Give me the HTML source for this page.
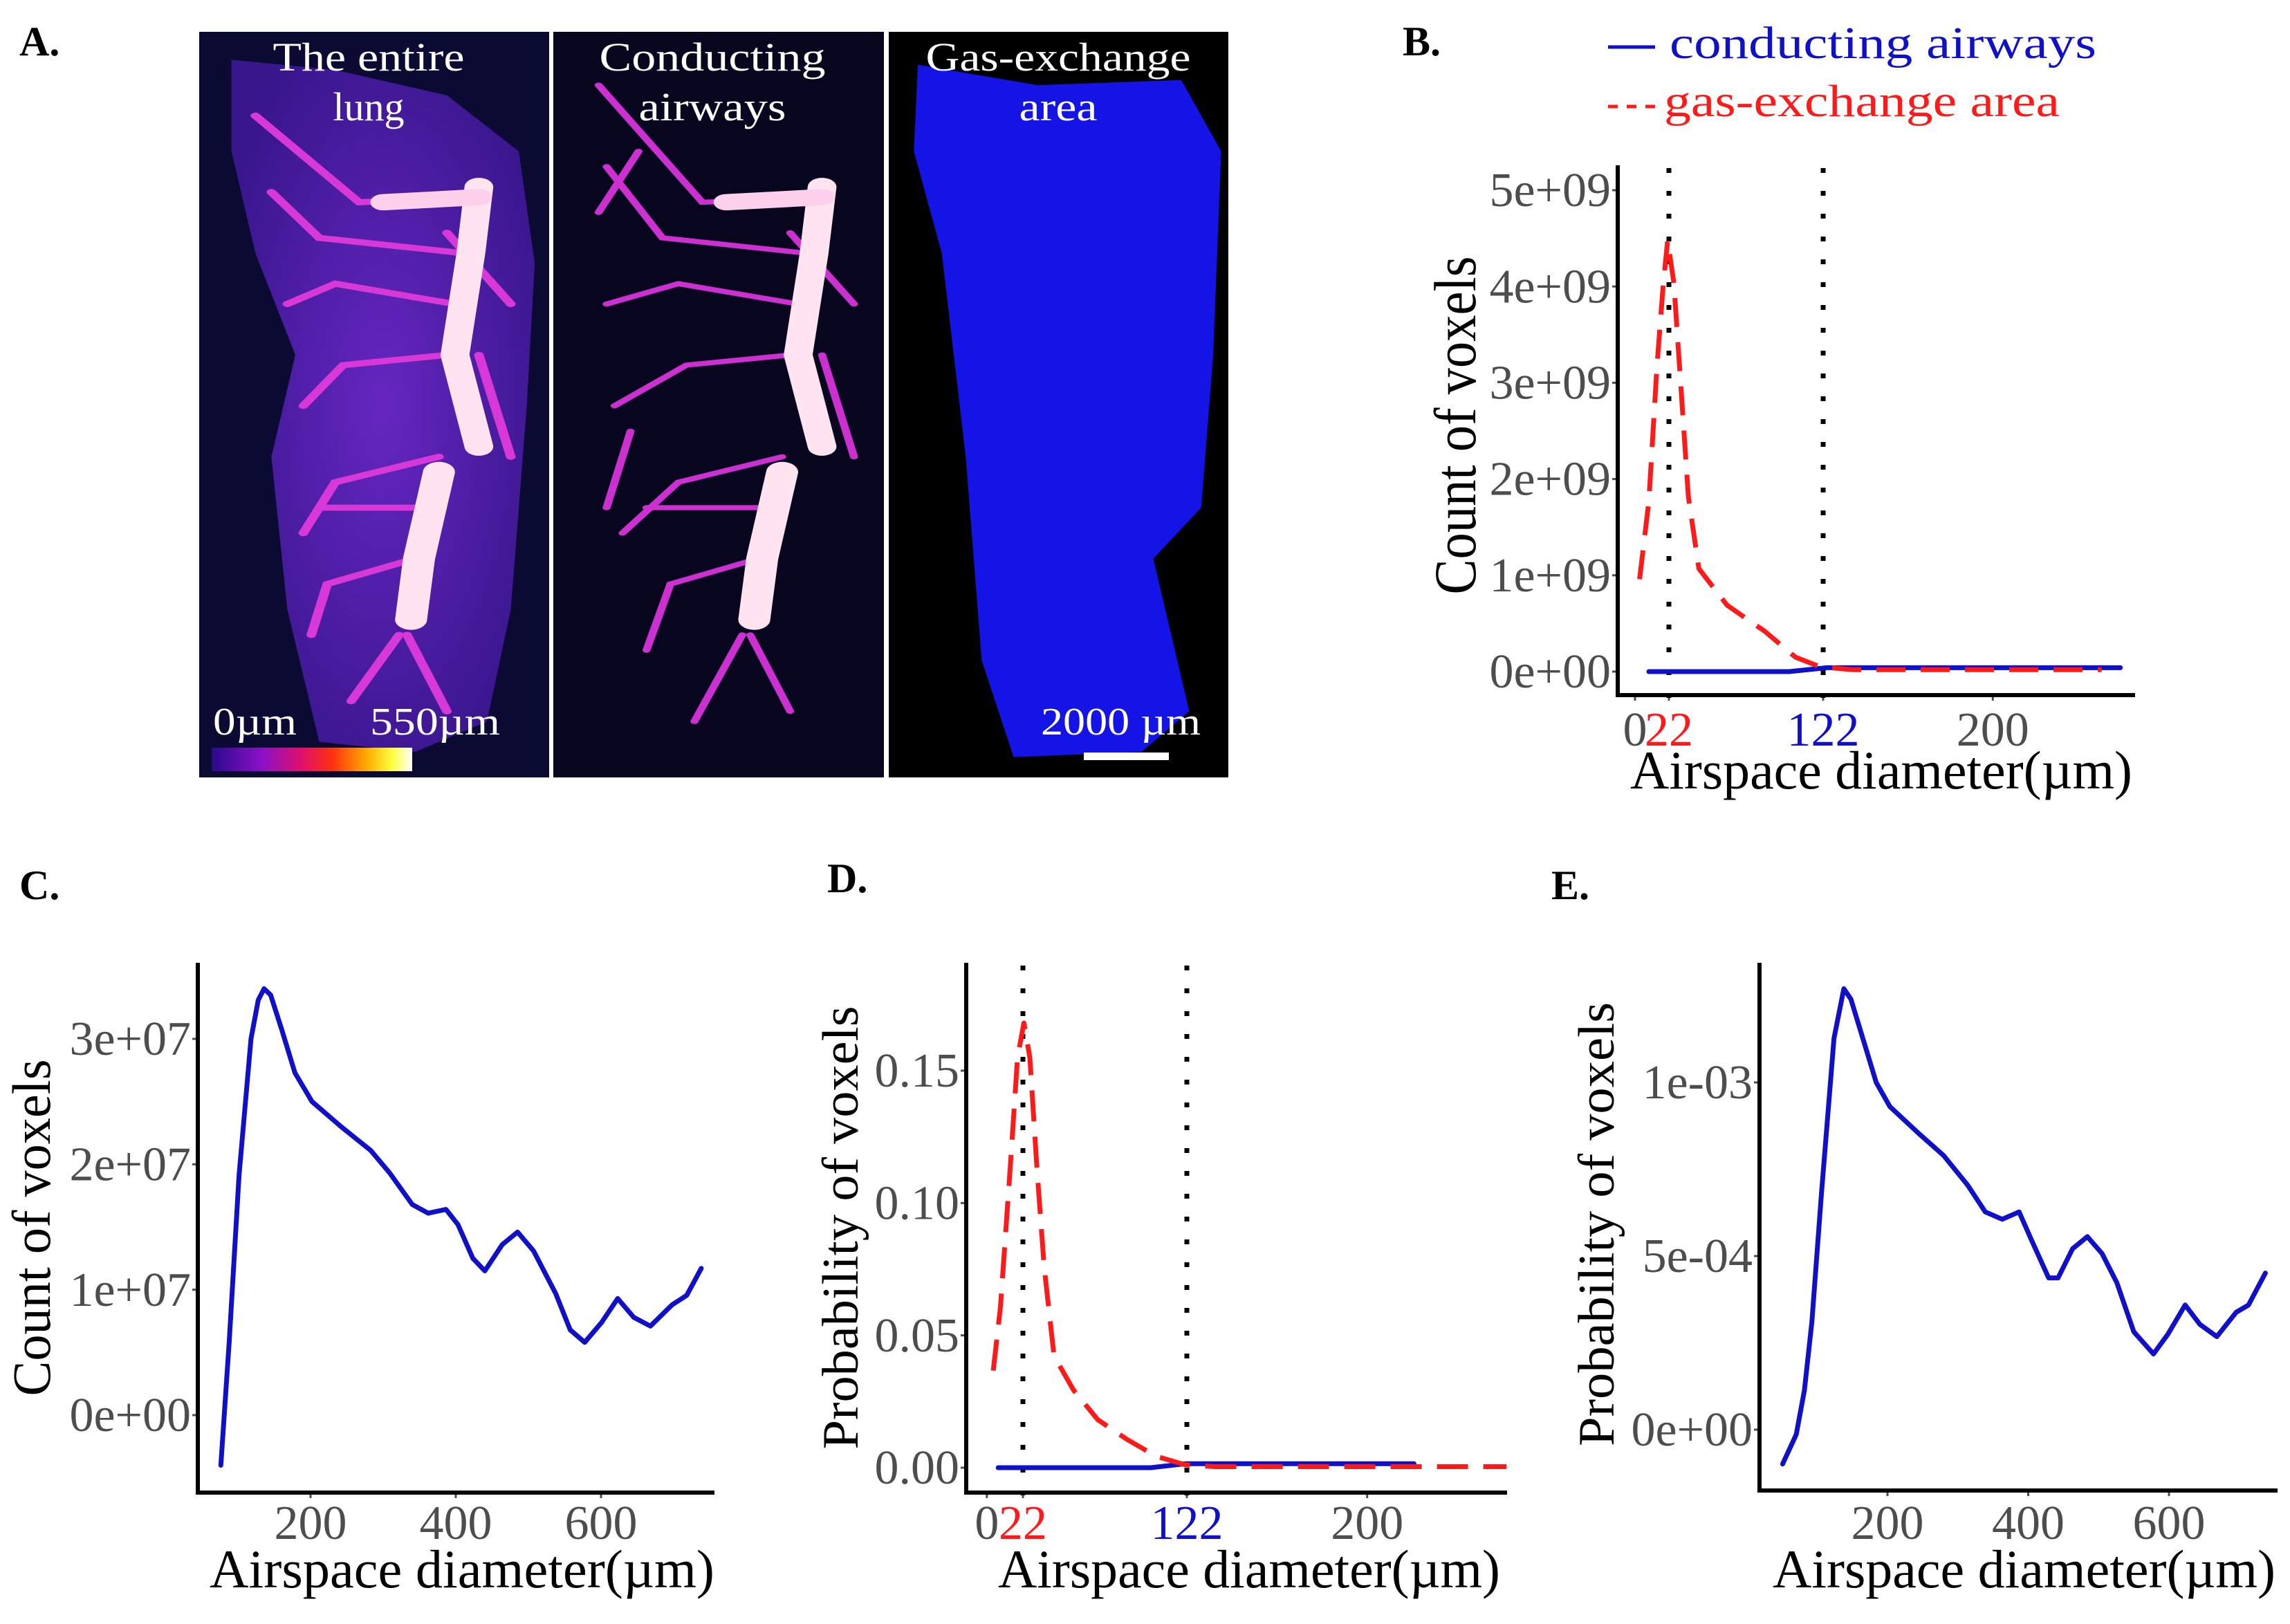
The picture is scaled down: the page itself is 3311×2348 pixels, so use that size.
<!DOCTYPE html>
<html><head><meta charset="utf-8"><style>
html,body{margin:0;padding:0;background:#fff;}
svg{display:block;font-family:"Liberation Serif",serif;}
</style></head><body>
<svg id="fig" width="3311" height="2348" viewBox="0 0 3311 2348" xmlns="http://www.w3.org/2000/svg">
<defs>
<linearGradient id="cbar" x1="0" x2="1" y1="0" y2="0">
<stop offset="0" stop-color="#2a0a8a"/><stop offset="0.25" stop-color="#8a10c8"/><stop offset="0.45" stop-color="#e0106a"/><stop offset="0.6" stop-color="#ff3010"/><stop offset="0.78" stop-color="#ffb000"/><stop offset="0.9" stop-color="#ffff40"/><stop offset="1" stop-color="#ffffff"/>
</linearGradient>
<radialGradient id="lungglow" cx="0.5" cy="0.5" r="0.6"><stop offset="0" stop-color="#6a28c8"/><stop offset="1" stop-color="#3a1690"/></radialGradient>
</defs>
<g><text x="28" y="80" font-size="60" font-weight="bold">A.</text></g>
<g>
<rect x="288" y="46" width="506" height="1078" fill="#0a0a32"/>
<rect x="800" y="46" width="478" height="1078" fill="#07061e"/>
<rect x="1285" y="46" width="491" height="1078" fill="#000"/>
<g transform="matrix(1.154 0 0 0.736 0 -2)">
<path d="M290,120 L420,140 L560,190 L650,300 L670,520 L660,800 L650,1000 L640,1200 L610,1420 L520,1480 L400,1460 L360,1200 L340,900 L370,700 L320,500 L290,300 Z" fill="url(#lungglow)" opacity="0.95"/>
<g stroke="#d838d8" stroke-linecap="round" fill="none" stroke-width="12">
<path d="M600,390 L450,400 L320,230"/><path d="M580,500 L400,470 L340,380"/><path d="M570,600 L420,560 L360,600"/><path d="M560,700 L430,720 L380,800"/><path d="M550,900 L420,950 L380,1050"/><path d="M520,1000 L400,1000"/><path d="M520,1100 L410,1150 L390,1250"/><path d="M500,1250 L440,1380"/><path d="M600,700 L640,900"/><path d="M510,1250 L560,1400"/><path d="M560,460 L640,600"/>
</g>
<path d="M600,370 L590,500 L570,700 L600,880" stroke="#ffe4f0" stroke-width="36" stroke-linecap="round" fill="none"/>
<path d="M600,390 L480,400" stroke="#ffd0ec" stroke-width="32" stroke-linecap="round" fill="none"/>
<path d="M550,930 L525,1100 L515,1220" stroke="#ffe4f0" stroke-width="40" stroke-linecap="round" fill="none"/>
<g transform="translate(430,0)">
<g stroke="#cc30d0" stroke-linecap="round" fill="none" stroke-width="10">
<path d="M600,390 L450,400 L320,170"/><path d="M580,500 L400,470 L330,330"/><path d="M570,600 L420,560 L330,600"/><path d="M560,700 L430,720 L340,800"/><path d="M550,900 L420,950 L350,1050"/><path d="M520,1000 L380,1000"/><path d="M520,1100 L410,1150 L380,1280"/><path d="M500,1250 L440,1420"/><path d="M600,700 L640,900"/><path d="M510,1250 L560,1400"/><path d="M560,460 L640,600"/><path d="M370,300 L320,420"/><path d="M360,850 L330,1000"/>
</g>
<path d="M600,370 L590,500 L570,700 L600,880" stroke="#ffe4f0" stroke-width="36" stroke-linecap="round" fill="none"/>
<path d="M600,390 L480,400" stroke="#ffd0ec" stroke-width="32" stroke-linecap="round" fill="none"/>
<path d="M550,930 L525,1100 L515,1220" stroke="#ffe4f0" stroke-width="40" stroke-linecap="round" fill="none"/>
</g>
<path d="M1150,130 L1300,170 L1480,160 L1530,300 L1520,700 L1505,1000 L1445,1100 L1490,1400 L1430,1480 L1270,1490 L1230,1300 L1210,900 L1180,500 L1145,300 Z" fill="#1414e6"/>
</g>
<g fill="#fff" font-size="58" text-anchor="middle">
<text x="533" y="102" textLength="277" lengthAdjust="spacingAndGlyphs">The entire</text>
<text x="533" y="174">lung</text>
<text x="1030" y="102" textLength="327" lengthAdjust="spacingAndGlyphs">Conducting</text>
<text x="1030" y="174" textLength="213" lengthAdjust="spacingAndGlyphs">airways</text>
<text x="1530" y="102" textLength="383" lengthAdjust="spacingAndGlyphs">Gas-exchange</text>
<text x="1530" y="174" textLength="113" lengthAdjust="spacingAndGlyphs">area</text>
</g>
<rect x="306" y="1081" width="290" height="34" fill="url(#cbar)"/>
<text x="308" y="1062" fill="#fff" font-size="56" textLength="121" lengthAdjust="spacingAndGlyphs">0µm</text>
<text x="535" y="1062" fill="#fff" font-size="56" textLength="188" lengthAdjust="spacingAndGlyphs">550µm</text>
<rect x="1567" y="1088" width="123" height="11" fill="#fff"/>
<text x="1505" y="1062" fill="#fff" font-size="56" textLength="231" lengthAdjust="spacingAndGlyphs">2000 µm</text>
</g>
<g>
<text x="2028" y="80" font-size="60" font-weight="bold">B.</text>
<line x1="2325" y1="68" x2="2393" y2="68" stroke="#1010c8" stroke-width="5"/>
<text x="2414" y="84" font-size="66" fill="#1010c8" textLength="617" lengthAdjust="spacingAndGlyphs">conducting airways</text>
<line x1="2325" y1="154" x2="2393" y2="154" stroke="#ff1a1a" stroke-width="5" stroke-dasharray="14 13"/>
<text x="2406" y="168" font-size="66" fill="#ff1a1a" textLength="572" lengthAdjust="spacingAndGlyphs">gas-exchange area</text>
</g>
<text x="28" y="1300" font-size="60" font-weight="bold">C.</text>
<text x="1196" y="1290" font-size="60" font-weight="bold">D.</text>
<text x="2243" y="1300" font-size="60" font-weight="bold">E.</text>
<g id="plots"></g>
</svg>
<script>
// Panel B data (count of voxels, units 1e9)
const bGasX = [3, 9, 14.3, 18.4, 21.2, 25.2, 29.3, 34.6, 41.4, 59.7, 84, 104, 120, 140.6, 200, 302.6];
const bGasY = [0.96, 1.77, 3.18, 4.04, 4.48, 4.04, 3.07, 1.82, 1.07, 0.69, 0.42, 0.15, 0.05, 0.02, 0.02, 0.02];
const bCondX = [9, 100, 124.4, 200, 314.7];
const bCondY = [0, 0, 0.04, 0.04, 0.04];
const bYTicks = [0, 1, 2, 3, 4, 5];
const bYLabels = ["0e+00", "1e+09", "2e+09", "3e+09", "4e+09", "5e+09"];
// Panel D data (probability)
const dGasX = [3.9, 8.3, 14.3, 18.7, 22.6, 26.2, 30.6, 35, 41, 52.9, 67.7, 85.5, 103.3, 121, 138.9, 180, 317];
const dGasY = [0.0367, 0.0607, 0.114, 0.155, 0.168, 0.155, 0.1126, 0.0756, 0.0422, 0.0293, 0.0181, 0.0107, 0.0043, 0.0011, 0.0004, 0.0004, 0.0004];
const dCondX = [6.9, 100, 121, 200, 260.6];
const dCondY = [0, 0, 0.0015, 0.0015, 0.0015];
const dYTicks = [0, 0.05, 0.10, 0.15];
const dYLabels = ["0.00", "0.05", "0.10", "0.15"];
// shared x ticks of B and D (the "200" label sits where the original figure printed it)
const bdXTickVals = [0, 22, 122, 232];
const bdXTickText = ["0", "22", "122", "200"];
const bdXTickColor = ["#4d4d4d", "#ff1a1a", "#1010c8", "#4d4d4d"];
const bdThresholds = [22, 122];
// Panel C data (count, units 1e7)
const cX = [76.5, 88, 101.5, 118, 128, 136, 145, 160, 178.5, 202, 242, 283, 309, 340, 362, 386.5, 403, 423.5, 440, 464, 485, 507, 537.5, 557.5, 577.5, 601, 623, 645, 668, 698, 718, 738];
const cY = [-0.40, 0.585, 1.91, 3.0, 3.31, 3.40, 3.35, 3.08, 2.73, 2.50, 2.30, 2.11, 1.93, 1.68, 1.61, 1.64, 1.52, 1.25, 1.15, 1.36, 1.46, 1.31, 0.97, 0.68, 0.58, 0.74, 0.93, 0.78, 0.71, 0.88, 0.955, 1.17];
const cYTicks = [0, 1, 2, 3];
const cYLabels = ["0e+00", "1e+07", "2e+07", "3e+07"];
// Panel E data (probability, units 1e-4)
const eX = [51, 70.4, 82, 92.6, 106, 124, 138, 148, 169, 184, 203.5, 245, 280, 314, 339, 363, 387, 404, 429, 442.5, 463, 484, 505, 526, 550, 578, 598.5, 623, 644, 668, 695.5, 713, 737];
const eY = [-0.99, -0.14, 1.13, 3.1, 6.76, 11.27, 12.7, 12.4, 11.0, 10.0, 9.3, 8.52, 7.89, 7.04, 6.27, 6.06, 6.27, 5.49, 4.37, 4.37, 5.21, 5.56, 5.07, 4.23, 2.82, 2.18, 2.75, 3.59, 3.03, 2.68, 3.38, 3.59, 4.51];
const eYTicks = [0, 5, 10];
const eYLabels = ["0e+00", "5e-04", "1e-03"];
const ceXTicks = [200, 400, 600];
const ceXLabels = ["200", "400", "600"];

const NS = "http://www.w3.org/2000/svg";
const root = document.getElementById("plots");
function mk(tag, attrs, parent) {
  const e = document.createElementNS(NS, tag);
  for (const k in attrs) e.setAttribute(k, attrs[k]);
  (parent || root).appendChild(e);
  return e;
}
function lin(d0, p0, d1, p1) { return v => p0 + (v - d0) * (p1 - p0) / (d1 - d0); }
function pathD(xs, ys, sx, sy) { return xs.map((x, i) => (i ? "L" : "M") + sx(x).toFixed(1) + "," + sy(ys[i]).toFixed(1)).join(" "); }

function panel(cfg) {
  const g = mk("g", {});
  
  
  const sx = cfg.sx, sy = cfg.sy;
  cfg.yTicks.forEach((v, i) => {
    const y = sy(v);
    const t = mk("line", {x1: cfg.ax - 8, x2: cfg.ax, y1: y, y2: y, stroke: "#4d4d4d", "stroke-width": 3}, g);
    
    
    const tx = mk("text", {x: cfg.ax - 10, y: y + cfg.tfs * 0.33, "text-anchor": "end", "font-size": cfg.tfs, fill: "#4d4d4d"}, g);
    tx.textContent = cfg.yLabels[i];
    
    
  });
  cfg.xTicks.forEach((v, i) => {
    const x = sx(v);
    const t = mk("line", {x1: x, x2: x, y1: cfg.ay, y2: cfg.ay + 8, stroke: "#4d4d4d", "stroke-width": 3}, g);
    
    
    const tx = mk("text", {x: x, y: cfg.xlBase, "text-anchor": "middle", "font-size": cfg.tfs, fill: cfg.xColors ? cfg.xColors[i] : "#4d4d4d"}, g);
    tx.textContent = cfg.xLabels[i];
    
    
  });
  (cfg.thresholds || []).forEach(v => {
    const l = mk("line", {x1: sx(v), x2: sx(v), y1: cfg.top + 4, y2: cfg.ay + 6, stroke: "#000", "stroke-width": 7, "stroke-dasharray": "7 " + cfg.dotGap}, g);
    
    
  });
  cfg.series.forEach(s => {
    const p = mk("path", {d: pathD(s.x, s.y, sx, sy), fill: "none", stroke: s.color, "stroke-width": 7, "stroke-linejoin": "round", "stroke-linecap": s.dash ? "butt" : "round"}, g);
    if (s.dash) p.setAttribute("stroke-dasharray", s.dash);
    
    
  });
  const ya = mk("line", {x1: cfg.ax, x2: cfg.ax, y1: cfg.top, y2: cfg.ay + 3, stroke: "#000", "stroke-width": 6}, g);
  
  
  const xa = mk("line", {x1: cfg.ax - 3, x2: cfg.right, y1: cfg.ay, y2: cfg.ay, stroke: "#000", "stroke-width": 6}, g);
  
  
  const xt = mk("text", {x: cfg.xt[0], y: cfg.xt[1], "font-size": 78, fill: "#000", textLength: cfg.xt[2], lengthAdjust: "spacingAndGlyphs"}, g);
  xt.textContent = "Airspace diameter(µm)";
  
  
  const yt = mk("text", {x: 0, y: 0, "font-size": cfg.yt[3], fill: "#000", "text-anchor": "middle", textLength: cfg.yt[2], lengthAdjust: "spacingAndGlyphs", transform: "translate(" + cfg.yt[0] + "," + cfg.yt[1] + ") rotate(-90)"}, g);
  yt.textContent = cfg.yTitle;
  
  
}

panel({name: "panel-b-chart", sx: lin(22, 2413, 122, 2636), sy: lin(0, 971, 5, 275),
  ax: 2339, ay: 1005, top: 239, right: 3087, tfs: 70, xlBase: 1078, dotGap: 26,
  yTicks: bYTicks, yLabels: bYLabels, xTicks: bdXTickVals, xLabels: bdXTickText, xColors: bdXTickColor,
  thresholds: bdThresholds,
  series: [{name: "conducting-airways-line", x: bCondX, y: bCondY, color: "#1010c8"},
           {name: "gas-exchange-line", x: bGasX, y: bGasY, color: "#ff1a1a", dash: "42 22"}],
  xt: [2357, 1140, 726], yt: [2133, 615, 489, 86], yTitle: "Count of voxels"});

panel({name: "panel-c-chart", sx: lin(200, 449, 400, 659), sy: lin(0, 2046, 3, 1502),
  ax: 286, ay: 2158, top: 1392, right: 1033, tfs: 70, xlBase: 2225,
  yTicks: cYTicks, yLabels: cYLabels, xTicks: ceXTicks, xLabels: ceXLabels,
  series: [{name: "conducting-airways-count-line", x: cX, y: cY, color: "#1010c8"}],
  xt: [303, 2295, 730], yt: [72, 1775, 487, 78], yTitle: "Count of voxels"});

panel({name: "panel-d-chart", sx: lin(22, 1479, 122, 1716), sy: lin(0, 2122, 0.15, 1548),
  ax: 1397, ay: 2158, top: 1392, right: 2179, tfs: 70, xlBase: 2225, dotGap: 26,
  yTicks: dYTicks, yLabels: dYLabels, xTicks: bdXTickVals, xLabels: bdXTickText, xColors: bdXTickColor,
  thresholds: bdThresholds,
  series: [{name: "conducting-airways-prob-line", x: dCondX, y: dCondY, color: "#1010c8"},
           {name: "gas-exchange-prob-line", x: dGasX, y: dGasY, color: "#ff1a1a", dash: "45 22"}],
  xt: [1443, 2295, 726], yt: [1240, 1775, 641, 74], yTitle: "Probability of voxels"});

panel({name: "panel-e-chart", sx: lin(200, 2729, 600, 3136), sy: lin(0, 2067, 10, 1565),
  ax: 2544, ay: 2155, top: 1392, right: 3293, tfs: 70, xlBase: 2225,
  yTicks: eYTicks, yLabels: eYLabels, xTicks: ceXTicks, xLabels: ceXLabels,
  series: [{name: "conducting-airways-prob-line", x: eX, y: eY, color: "#1010c8"}],
  xt: [2563, 2295, 727], yt: [2333, 1770, 642, 74], yTitle: "Probability of voxels"});
</script>
</body></html>
